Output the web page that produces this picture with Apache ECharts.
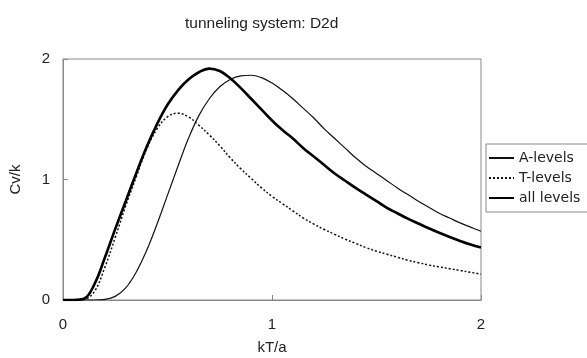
<!DOCTYPE html>
<html><head><meta charset="utf-8">
<script src="https://cdn.jsdelivr.net/npm/echarts@6/dist/echarts.min.js"></script>
<style>html,body{margin:0;padding:0;background:#fff}#c{width:587px;height:358px}</style>
</head><body><div id="c"></div>
<script>
var xValues = [0,0.05,0.1,0.15,0.2,0.25,0.3,0.35,0.4,0.45,0.5,0.55,0.6,0.65,0.7,0.75,0.8,0.85,0.9,0.95,1.0,1.05,1.1,1.15,1.2,1.25,1.3,1.35,1.4,1.45,1.5,1.55,1.6,1.65,1.7,1.75,1.8,1.85,1.9,1.95,2.0];
var aLevels = [0,0,0,0,0.005,0.03,0.1,0.23,0.41,0.63,0.87,1.11,1.34,1.53,1.67,1.77,1.83,1.86,1.865,1.845,1.80,1.74,1.67,1.59,1.51,1.42,1.34,1.26,1.18,1.11,1.05,0.99,0.93,0.875,0.82,0.77,0.72,0.68,0.64,0.605,0.57];
var tLevels = [0,0,0.005,0.07,0.27,0.52,0.78,1.02,1.25,1.42,1.52,1.55,1.52,1.45,1.37,1.28,1.18,1.09,1.01,0.93,0.86,0.80,0.74,0.68,0.63,0.585,0.545,0.505,0.47,0.435,0.405,0.38,0.355,0.33,0.31,0.29,0.275,0.26,0.245,0.23,0.215];
var allLevels = [0,0,0.01,0.13,0.35,0.59,0.82,1.05,1.27,1.46,1.62,1.74,1.83,1.89,1.92,1.90,1.84,1.76,1.67,1.58,1.49,1.41,1.34,1.26,1.19,1.12,1.05,0.99,0.93,0.875,0.82,0.765,0.72,0.675,0.635,0.595,0.558,0.523,0.49,0.46,0.435];
var xTicks = [0,1,2];
var yTicks = [0,1,2];

function pairs(ys){ return xValues.map(function(x,i){ return [x, ys[i]]; }); }
var font = 'Liberation Sans, Arial, sans-serif';
var wide = 'DejaVu Sans, sans-serif';
var chart = echarts.init(document.getElementById('c'), null, {renderer:'canvas'});
chart.setOption({
  animation:false,
  title:{text:'tunneling system: D2d', left:180, top:11, textStyle:{fontFamily:font, fontSize:15.5, fontWeight:'normal', color:'#222'}},
  grid:{left:63, right:106, top:59, bottom:58, show:true, borderColor:'#888', borderWidth:1, containLabel:false, outerBoundsMode:'none'},
  legend:{
    orient:'vertical', left:486, top:144, itemWidth:25, itemHeight:10, itemGap:6,
    padding:[7,10,7,2], borderColor:'#888', borderWidth:1, backgroundColor:'#fff',
    itemStyle:{opacity:0},
    textStyle:{fontFamily:wide, fontSize:14, color:'#222'},
    data:['A-levels','T-levels','all levels']
  },
  xAxis:{type:'value', min:0, max:2, interval:1, name:'kT/a', nameLocation:'middle', nameGap:40,
    nameTextStyle:{fontFamily:font, fontSize:15, color:'#222'},
    axisLine:{show:true, lineStyle:{color:'#888'}},
    axisTick:{show:true, inside:true, length:5, lineStyle:{color:'#888'}},
    axisLabel:{fontFamily:font, fontSize:15, color:'#222', margin:17, formatter:function(v){return xTicks.indexOf(v)>=0?String(v):'';}},
    splitLine:{show:false}},
  yAxis:{type:'value', min:0, max:2, interval:1, name:'Cv/k', nameLocation:'middle', nameGap:40, nameRotate:90,
    nameTextStyle:{fontFamily:font, fontSize:15, color:'#222'},
    axisLine:{show:true, lineStyle:{color:'#888'}},
    axisTick:{show:true, inside:true, length:5, lineStyle:{color:'#888'}},
    axisLabel:{fontFamily:font, fontSize:15, color:'#222', margin:13, formatter:function(v){return yTicks.indexOf(v)>=0?String(v):'';}},
    splitLine:{show:false}},
  series:[
    {name:'A-levels', type:'line', data:pairs(aLevels), smooth:0.4, showSymbol:false, symbol:'none',
      lineStyle:{color:'#111', width:1.2}, itemStyle:{color:'#111'}},
    {name:'T-levels', type:'line', data:pairs(tLevels), smooth:0.4, showSymbol:false, symbol:'none',
      lineStyle:{color:'#111', width:1.5, type:[2,2]}, itemStyle:{color:'#111'}},
    {name:'all levels', type:'line', data:pairs(allLevels), smooth:0.4, showSymbol:false, symbol:'none',
      lineStyle:{color:'#000', width:2.6}, itemStyle:{color:'#000'}}
  ]
});
</script></body></html>
